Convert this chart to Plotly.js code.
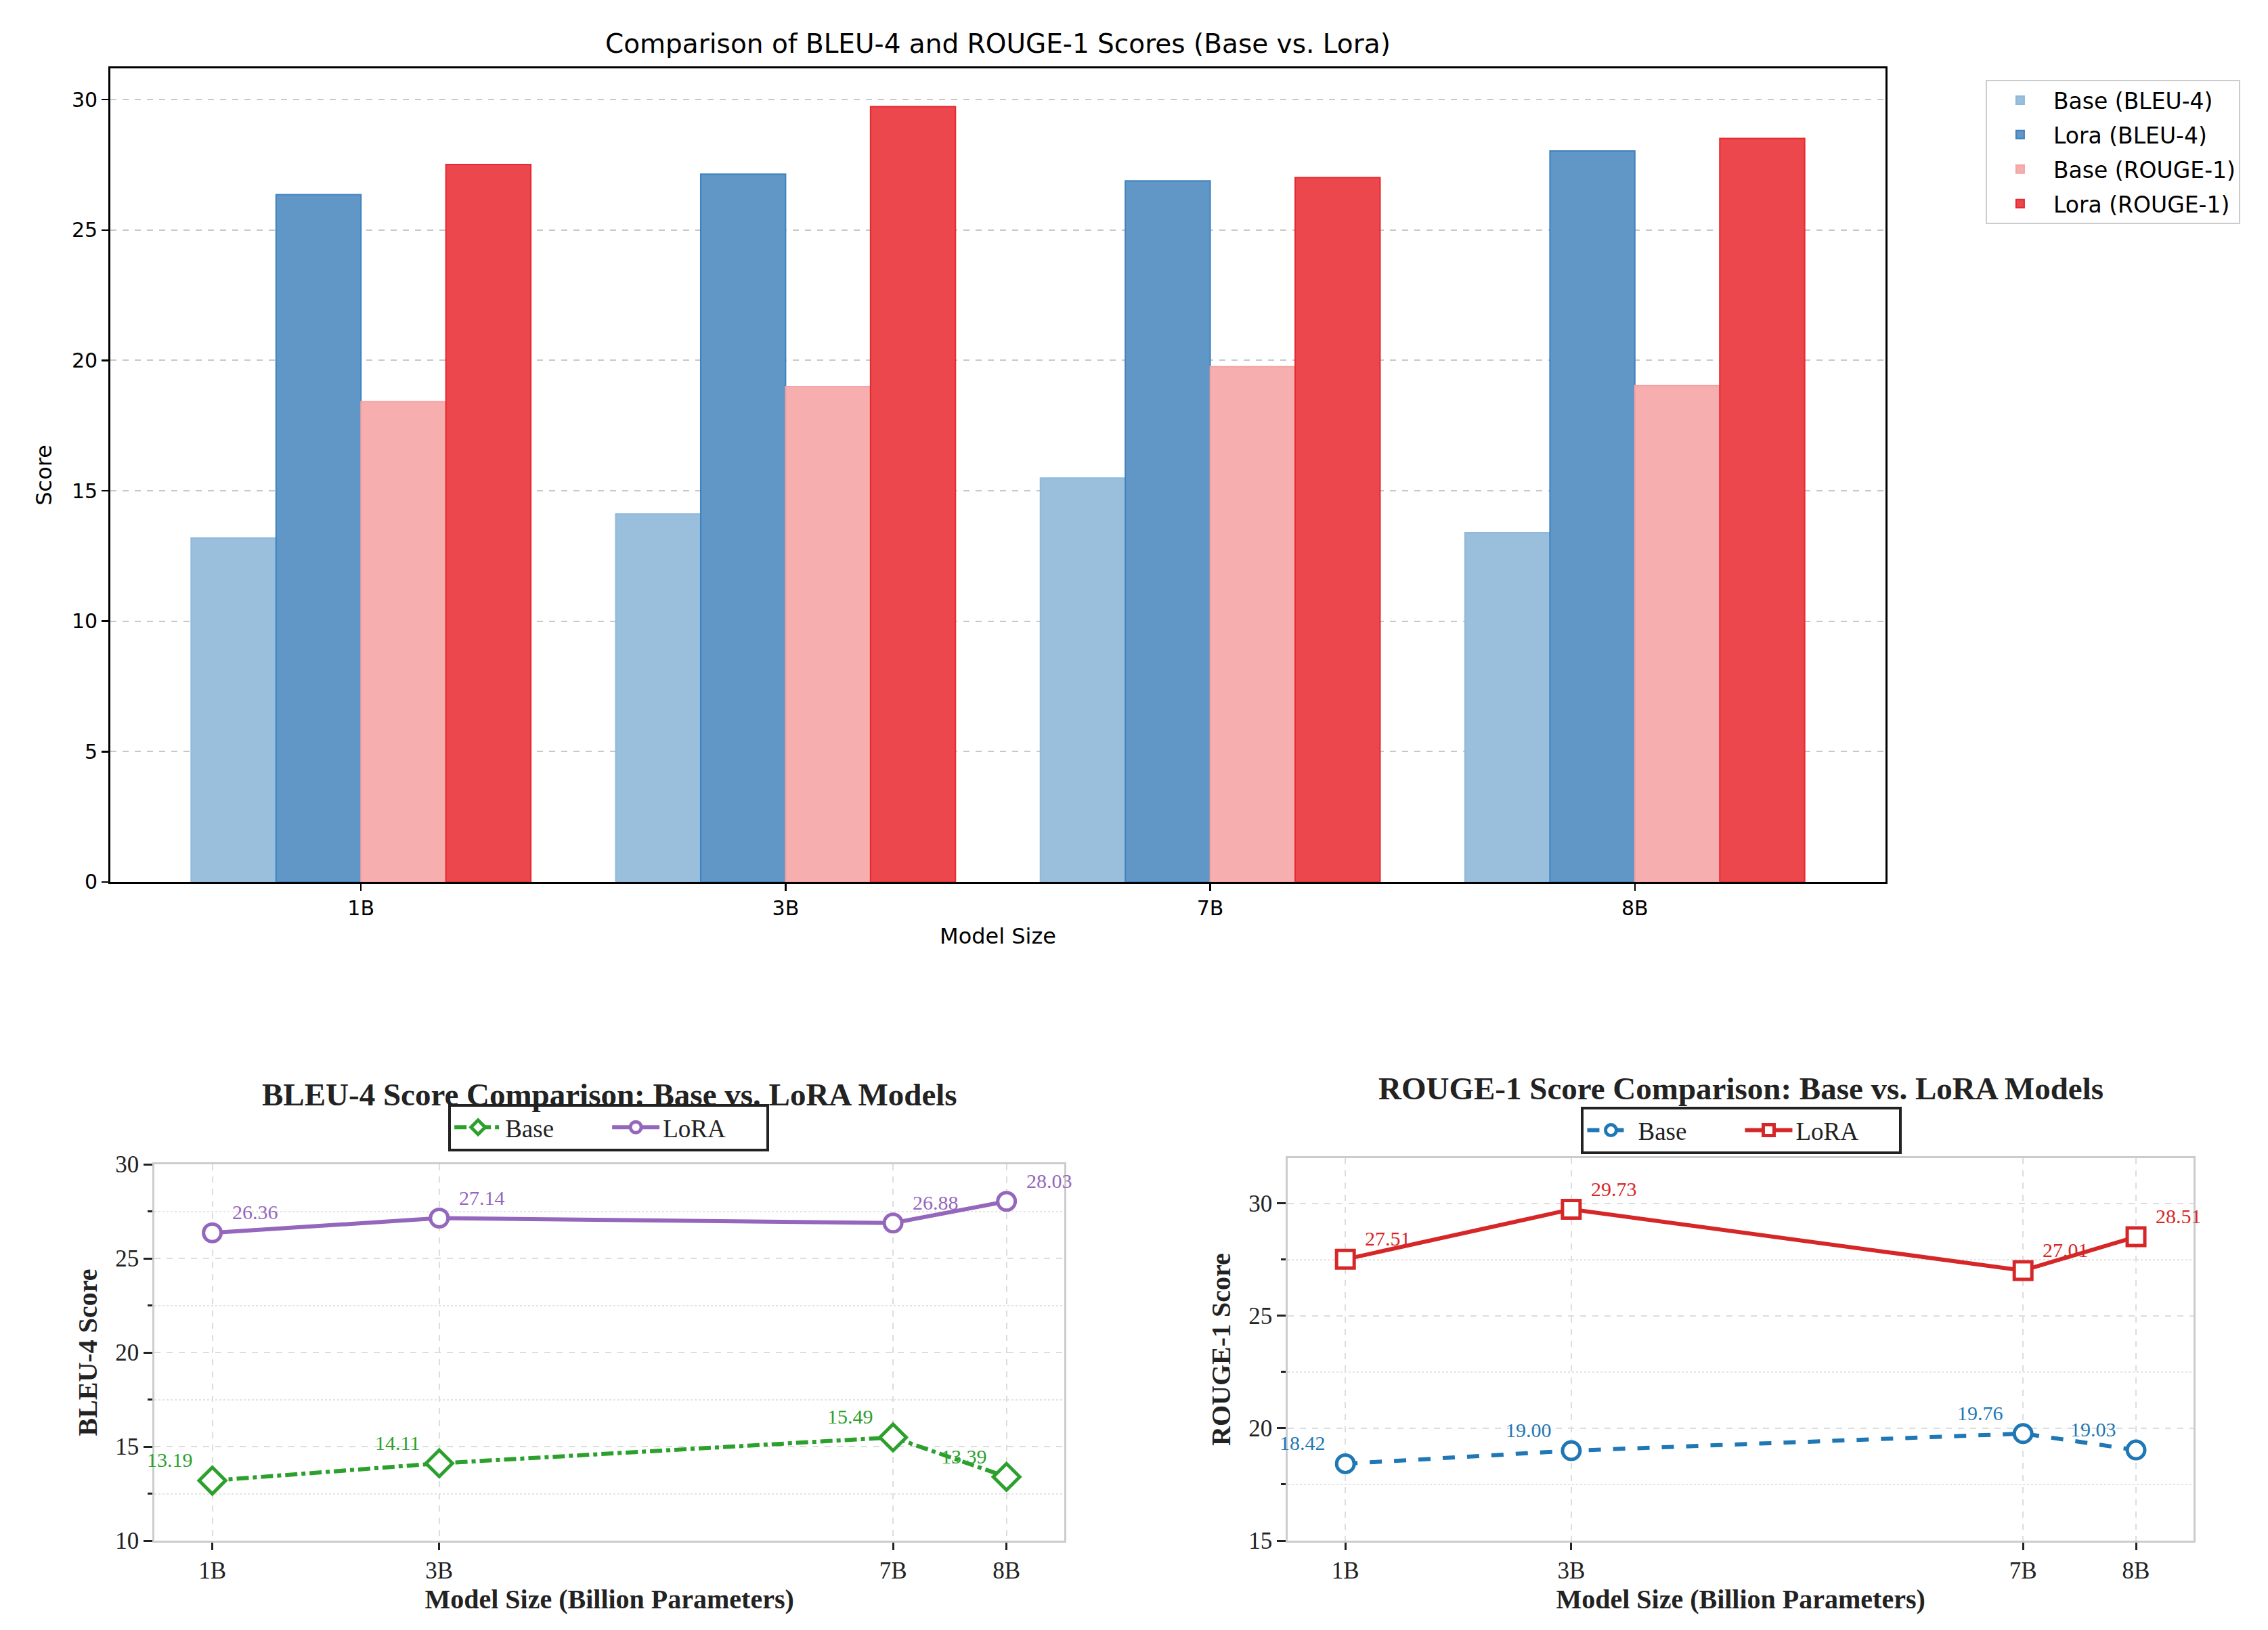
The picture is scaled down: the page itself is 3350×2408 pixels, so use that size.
<!DOCTYPE html>
<html>
<head>
<meta charset="utf-8">
<script src="https://cdn.plot.ly/plotly-3.0.1.min.js"></script>
<style>html,body{margin:0;padding:0;background:#fff;}#chart{width:3350px;height:2408px;}</style>
</head>
<body>
<div id="chart"></div>
<script>
// ---- data ----
const models = ['1B', '3B', '7B', '8B'];
const modelSizes = [1, 3, 7, 8];
const baseBleu = [13.19, 14.11, 15.49, 13.39];
const loraBleu = [26.36, 27.14, 26.88, 28.03];
const baseRouge = [18.42, 19.00, 19.76, 19.03];
const loraRouge = [27.51, 29.73, 27.01, 28.51];

const sans = 'DejaVu Sans';
const serif = 'Liberation Serif';

function bar(name, vals, fill, edge) {
  return {
    type: 'bar', name: name, x: models, y: vals, xaxis: 'x', yaxis: 'y',
    marker: {color: fill, line: {color: edge, width: 2}},
    legend: 'legend', legendgroup: name, hoverinfo: 'skip'
  };
}

const traces = [
  bar('Base (BLEU-4)', baseBleu, '#9abfdc', '#8fb8da'),
  bar('Lora (BLEU-4)', loraBleu, '#6097c6', '#3f82bf'),
  bar('Base (ROUGE-1)', baseRouge, '#f7aeae', '#f4a2a3'),
  bar('Lora (ROUGE-1)', loraRouge, '#eb474c', '#e42a30'),
  {
    type: 'scatter', mode: 'lines+markers', name: 'Base', x: modelSizes, y: baseBleu,
    xaxis: 'x2', yaxis: 'y2', legend: 'legend2',
    line: {color: '#2ca02c', width: 6, dash: 'dashdot'},
    marker: {symbol: 'diamond', size: 30, color: '#ffffff', line: {color: '#2ca02c', width: 5}}
  },
  {
    type: 'scatter', mode: 'lines+markers', name: 'LoRA', x: modelSizes, y: loraBleu,
    xaxis: 'x2', yaxis: 'y2', legend: 'legend2',
    line: {color: '#9467bd', width: 6},
    marker: {symbol: 'circle', size: 26, color: '#ffffff', line: {color: '#9467bd', width: 5}}
  },
  {
    type: 'scatter', mode: 'lines+markers', name: 'Base', x: modelSizes, y: baseRouge,
    xaxis: 'x3', yaxis: 'y3', legend: 'legend3',
    line: {color: '#1f77b4', width: 6, dash: 'dash'},
    marker: {symbol: 'circle', size: 26, color: '#ffffff', line: {color: '#1f77b4', width: 5}}
  },
  {
    type: 'scatter', mode: 'lines+markers', name: 'LoRA', x: modelSizes, y: loraRouge,
    xaxis: 'x3', yaxis: 'y3', legend: 'legend3',
    line: {color: '#d62728', width: 6},
    marker: {symbol: 'square', size: 26, color: '#ffffff', line: {color: '#d62728', width: 5}}
  }
];

const annotations = [];
function labels(vals, xr, yr, color, side) {
  vals.forEach((v, i) => {
    annotations.push({
      x: modelSizes[i], y: v, xref: xr, yref: yr, text: v.toFixed(2), showarrow: false,
      xanchor: side === 'left' ? 'right' : 'left', yanchor: 'bottom',
      xshift: side === 'left' ? -27 : 27, yshift: 12,
      font: {family: serif, size: 30, color: color}
    });
  });
}
labels(baseBleu, 'x2', 'y2', '#2ca02c', 'left');
labels(loraBleu, 'x2', 'y2', '#9467bd', 'right');
labels(baseRouge, 'x3', 'y3', '#1f77b4', 'left');
labels(loraRouge, 'x3', 'y3', '#d62728', 'right');

annotations.push(
  {text: 'Comparison of BLEU-4 and ROUGE-1 Scores (Base vs. Lora)', xref: 'paper', yref: 'paper',
   x: 0.44, y: 0.9734, xanchor: 'center', yanchor: 'middle', showarrow: false,
   font: {family: sans, size: 39, color: '#000'}},
  {text: '<b>BLEU-4 Score Comparison: Base vs. LoRA Models</b>', xref: 'paper', yref: 'paper',
   x: 0.2687, y: 0.3285, xanchor: 'center', yanchor: 'middle', showarrow: false,
   font: {family: serif, size: 47, color: '#222'}},
  {text: '<b>ROUGE-1 Score Comparison: Base vs. LoRA Models</b>', xref: 'paper', yref: 'paper',
   x: 0.7675, y: 0.3322, xanchor: 'center', yanchor: 'middle', showarrow: false,
   font: {family: serif, size: 47, color: '#222'}}
);

function lineXAxis(domain, anchor) {
  return {
    domain: domain, anchor: anchor, type: 'linear', range: [0.49, 8.51],
    tickvals: modelSizes, ticktext: models,
    showline: true, linecolor: '#cccccc', linewidth: 3, mirror: true,
    ticks: 'outside', ticklen: 11, tickwidth: 3, tickcolor: '#222',
    showgrid: true, gridcolor: '#dddddd', gridwidth: 2, griddash: 'dash', zeroline: false,
    tickfont: {family: serif, size: 35, color: '#222'},
    title: {text: '<b>Model Size (Billion Parameters)</b>', standoff: 6,
            font: {family: serif, size: 40, color: '#222'}}
  };
}
function lineYAxis(domain, anchor, range, title) {
  return {
    domain: domain, anchor: anchor, range: range, tick0: 0, dtick: 5,
    showline: true, linecolor: '#cccccc', linewidth: 3, mirror: true,
    ticks: 'outside', ticklen: 13, tickwidth: 3, tickcolor: '#222',
    showgrid: true, gridcolor: '#dddddd', gridwidth: 2, griddash: 'dash', zeroline: false,
    minor: {dtick: 2.5, tick0: 0, ticks: 'outside', ticklen: 7, tickwidth: 3, tickcolor: '#222',
            showgrid: true, gridcolor: '#e4e4e4', gridwidth: 2, griddash: 'dot'},
    tickfont: {family: serif, size: 35, color: '#222'},
    title: {text: '<b>' + title + '</b>', standoff: 15,
            font: {family: serif, size: 40, color: '#222'}}
  };
}

const layout = {
  width: 3350, height: 2408,
  margin: {l: 0, r: 0, t: 0, b: 0},
  paper_bgcolor: '#ffffff', plot_bgcolor: '#ffffff',
  showlegend: true,
  barmode: 'group', bargap: 0.2, bargroupgap: 0,
  xaxis: {
    domain: [0.0487, 0.8313], anchor: 'y', type: 'category', range: [-0.59, 3.59],
    showline: true, linecolor: '#000', linewidth: 3, mirror: true,
    ticks: 'outside', ticklen: 10, tickwidth: 2.5, tickcolor: '#000',
    showgrid: false, tickfont: {family: sans, size: 30, color: '#000'},
    title: {text: 'Model Size', standoff: 14, font: {family: sans, size: 32, color: '#000'}}
  },
  yaxis: {
    domain: [0.4589, 0.9581], anchor: 'x', range: [0, 31.2], dtick: 5,
    showline: true, linecolor: '#000', linewidth: 3, mirror: true,
    ticks: 'outside', ticklen: 10, tickwidth: 2.5, tickcolor: '#000',
    showgrid: true, gridcolor: '#c8c8c8', gridwidth: 2, griddash: 'dash', zeroline: false,
    tickfont: {family: sans, size: 30, color: '#000'},
    title: {text: 'Score', standoff: 20, font: {family: sans, size: 32, color: '#000'}}
  },
  xaxis2: lineXAxis([0.0681, 0.4693], 'y2'),
  yaxis2: lineYAxis([0.0548, 0.2857], 'x2', [10, 30], 'BLEU-4 Score'),
  xaxis3: lineXAxis([0.5678, 0.9672], 'y3'),
  yaxis3: lineYAxis([0.0548, 0.2894], 'x3', [15, 32], 'ROUGE-1 Score'),
  legend: {
    x: 0.8755, y: 0.951, xanchor: 'left', yanchor: 'top', orientation: 'v',
    bordercolor: '#cccccc', borderwidth: 2, bgcolor: '#ffffff', tracegroupgap: 5,
    font: {family: sans, size: 33, color: '#000'}, itemwidth: 88
  },
  legend2: {
    x: 0.2684, y: 0.3228, xanchor: 'center', yanchor: 'top', orientation: 'h',
    bordercolor: '#222', borderwidth: 4, bgcolor: '#ffffff',
    font: {family: serif, size: 37, color: '#222'}, itemwidth: 70,
    entrywidth: 148, entrywidthmode: 'pixels'
  },
  legend3: {
    x: 0.7679, y: 0.321, xanchor: 'center', yanchor: 'top', orientation: 'h',
    bordercolor: '#222', borderwidth: 4, bgcolor: '#ffffff',
    font: {family: serif, size: 37, color: '#222'}, itemwidth: 70,
    entrywidth: 148, entrywidthmode: 'pixels'
  },
  annotations: annotations
};

Plotly.newPlot('chart', traces, layout, {staticPlot: true});
</script>
</body>
</html>
